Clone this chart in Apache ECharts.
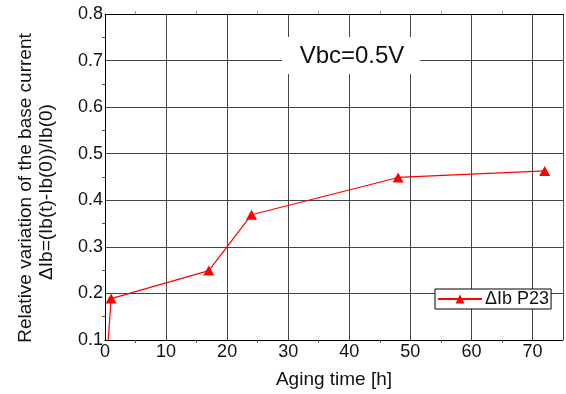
<!DOCTYPE html>
<html>
<head>
<meta charset="utf-8">
<script src="https://cdn.jsdelivr.net/npm/echarts@6/dist/echarts.min.js"></script>
<style>
  html, body { margin: 0; padding: 0; background: #fff; }
  #chart { width: 566px; height: 394px; }
</style>
</head>
<body>
<div id="chart"></div>
<script>
// aging time [h] and relative base current variation
const agingTime = [0, 1, 17, 24, 48, 72];
const deltaIb = [0, 0.189, 0.249, 0.369, 0.449, 0.463];
const seriesName = 'ΔIb P23';
const yTicks = [0.1, 0.2, 0.3, 0.4, 0.5, 0.6, 0.7, 0.8];
const xTicks = [0, 10, 20, 30, 40, 50, 60, 70];

const font = 'Liberation Sans, Arial, sans-serif';
const chart = echarts.init(document.getElementById('chart'));

const points = agingTime.map((t, i) => [t, deltaIb[i]]);

const option = {
  animation: false,
  grid: { left: 105, right: 0, top: 14, bottom: 51 },
  legend: {
    data: [seriesName],
    left: 435,
    top: 289,
    orient: 'horizontal',
    backgroundColor: '#fff',
    borderColor: '#000',
    borderWidth: 1,
    borderRadius: 0,
    padding: [1, 2, 1, 2],
    itemWidth: 44,
    itemHeight: 11,
    itemGap: 0,
    textStyle: { fontFamily: font, fontSize: 18, color: '#111', padding: [0, 0, 0, -2] }
  },
  xAxis: [{
    type: 'value',
    min: 0,
    max: 75,
    interval: 10,
    name: 'Aging time [h]',
    nameLocation: 'middle',
    nameGap: 30,
    nameTextStyle: { fontFamily: font, fontSize: 19, color: '#111' },
    axisLine: { lineStyle: { color: '#000', width: 1 } },
    axisTick: { show: false },
    minorTick: { show: true, splitNumber: 2, length: 3, lineStyle: { color: '#555' } },
    axisLabel: {
      fontFamily: font, fontSize: 18, color: '#111', margin: 3,
      formatter: (v) => xTicks.includes(v) ? String(v) : ''
    },
    splitLine: { show: true, lineStyle: { color: '#444', width: 1 } }
  }, {
    type: 'value',
    position: 'top',
    min: 0,
    max: 75,
    interval: 10,
    axisLine: { show: true, onZero: false, lineStyle: { color: '#000', width: 1 } },
    axisTick: { show: false },
    minorTick: { show: true, splitNumber: 2, length: 3, lineStyle: { color: '#999' } },
    axisLabel: { show: false },
    splitLine: { show: false }
  }],
  yAxis: {
    type: 'value',
    min: 0.1,
    max: 0.8,
    interval: 0.1,
    axisLine: { show: true, lineStyle: { color: '#000', width: 1 } },
    axisTick: { show: false },
    minorTick: { show: true, splitNumber: 2, length: 3, lineStyle: { color: '#555' } },
    axisLabel: {
      fontFamily: font, fontSize: 18, color: '#111', margin: 2,
      formatter: (v) => v.toFixed(1)
    },
    splitLine: { show: true, lineStyle: { color: '#444', width: 1 } }
  },
  series: [{
    name: seriesName,
    type: 'line',
    data: points,
    clip: true,
    symbol: 'triangle',
    symbolSize: [11, 10],
    itemStyle: { color: '#ff0000' },
    lineStyle: { color: '#ff0000', width: 1.2 },
    z: 3
  }],
  graphic: [
    {
      type: 'rect',
      shape: { x: 282, y: 37, width: 138, height: 37 },
      style: { fill: '#fff' },
      z: 10
    },
    {
      type: 'text',
      x: 352,
      y: 56,
      style: {
        text: 'Vbc=0.5V',
        font: '24px ' + font,
        fill: '#111',
        align: 'center',
        verticalAlign: 'middle'
      },
      z: 11
    },
    {
      type: 'text',
      x: 26,
      y: 188,
      rotation: Math.PI / 2,
      style: {
        text: 'Relative variation of the base current',
        font: '19px ' + font,
        fill: '#111',
        align: 'center',
        verticalAlign: 'middle'
      }
    },
    {
      type: 'text',
      x: 47,
      y: 192,
      rotation: Math.PI / 2,
      style: {
        text: 'ΔIb=(Ib(t)-Ib(0))/Ib(0)',
        font: '19px ' + font,
        fill: '#111',
        align: 'center',
        verticalAlign: 'middle'
      }
    }
  ]
};

chart.setOption(option);
window.addEventListener('resize', () => chart.resize());
</script>
</body>
</html>
